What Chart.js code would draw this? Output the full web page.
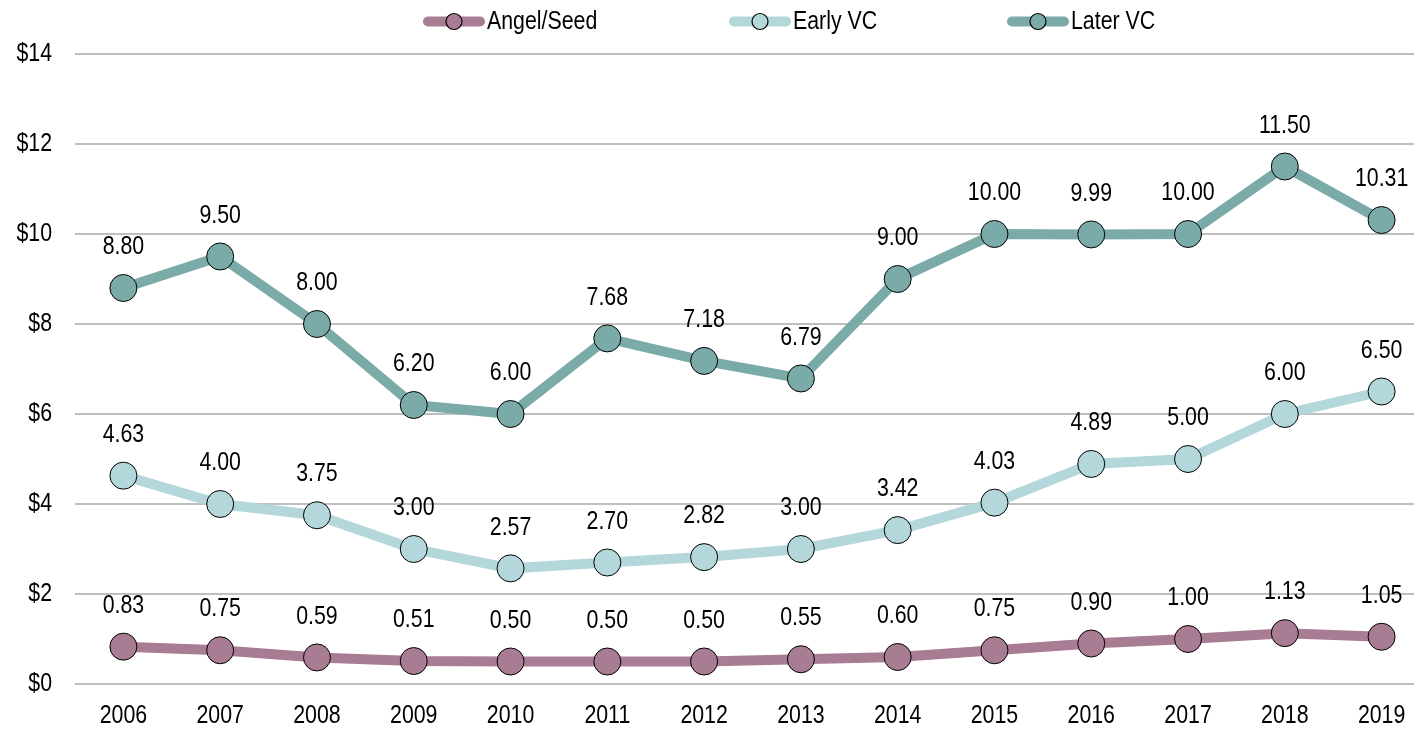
<!DOCTYPE html>
<html>
<head>
<meta charset="utf-8">
<script src="https://cdn.jsdelivr.net/npm/chart.js@4.4.0/dist/chart.umd.min.js"></script>
<style>
  html, body { margin: 0; padding: 0; background: #fff; overflow: hidden; }
  canvas { display: block; }
</style>
</head>
<body>
<canvas id="grafico" width="1430" height="729"></canvas>
<script>
// datos
const anios = ['2006','2007','2008','2009','2010','2011','2012','2013','2014','2015','2016','2017','2018','2019'];
const angelSeed = [0.83,0.75,0.59,0.51,0.50,0.50,0.50,0.55,0.60,0.75,0.90,1.00,1.13,1.05];
const earlyVC   = [4.63,4.00,3.75,3.00,2.57,2.70,2.82,3.00,3.42,4.03,4.89,5.00,6.00,6.50];
const laterVC   = [8.80,9.50,8.00,6.20,6.00,7.68,7.18,6.79,9.00,10.00,9.99,10.00,11.50,10.31];
const ticksY    = [0,2,4,6,8,10,12,14];

// no hay Arial Narrow: se estrecha la Liberation Sans a mano
const FUENTE = "26px 'Liberation Sans', Arial, sans-serif";
const ESTRECHO = 0.82;

const colores = {
    angel: 'rgb(168,124,146)',
    early: 'rgb(180,215,220)',
    later: 'rgb(123,171,168)'
};

function serie(label, data, color) {
    return {
        label: label,
        data: data,
        borderColor: color,
        backgroundColor: color,
        borderWidth: 10,
        pointRadius: 13.5,
        pointHoverRadius: 13.5,
        pointBackgroundColor: color,
        pointBorderColor: '#000',
        pointBorderWidth: 1,
        tension: 0
    };
}

function texto(ctx, t, x, y, align) {
    ctx.save();
    ctx.translate(x, y);
    ctx.scale(ESTRECHO, 1);
    ctx.font = FUENTE;
    ctx.fillStyle = '#000';
    ctx.textAlign = align;
    ctx.textBaseline = 'middle';
    ctx.fillText(t, 0, 0);
    ctx.restore();
}

// etiquetas de ejes y de puntos
const textosPlugin = {
    id: 'textos',
    afterDraw(chart) {
        const ctx = chart.ctx;
        const sx = chart.scales.x, sy = chart.scales.y;
        ticksY.forEach(v => texto(ctx, '$' + v, 52, sy.getPixelForValue(v), 'right'));
        anios.forEach((a, i) => texto(ctx, a, sx.getPixelForTick(i), 716, 'center'));
        chart.data.datasets.forEach((ds, i) => {
            chart.getDatasetMeta(i).data.forEach((pt, j) => {
                texto(ctx, ds.data[j].toFixed(2), pt.x, pt.y - 41, 'center');
            });
        });
    }
};

// leyenda con linea y circulo
const leyendaPlugin = {
    id: 'leyenda',
    afterDraw(chart) {
        const ctx = chart.ctx;
        const y = 21.5;
        const inicios = { 'Angel/Seed': 424, 'Early VC': 730, 'Later VC': 1008 };
        chart.data.datasets.forEach(ds => {
            const x = inicios[ds.label];
            ctx.save();
            ctx.strokeStyle = ds.borderColor;
            ctx.lineWidth = 10;
            ctx.lineCap = 'round';
            ctx.beginPath();
            ctx.moveTo(x + 4, y);
            ctx.lineTo(x + 56, y);
            ctx.stroke();
            ctx.beginPath();
            ctx.arc(x + 30, y, 8, 0, Math.PI * 2);
            ctx.fillStyle = ds.borderColor;
            ctx.fill();
            ctx.lineWidth = 1.2;
            ctx.strokeStyle = '#000';
            ctx.stroke();
            ctx.restore();
            texto(ctx, ds.label, x + 63, y + 0.5, 'left');
        });
    }
};

const ctx = document.getElementById('grafico').getContext('2d');
new Chart(ctx, {
    type: 'line',
    data: {
        labels: anios,
        datasets: [
            serie('Angel/Seed', angelSeed, colores.angel),
            serie('Early VC', earlyVC, colores.early),
            serie('Later VC', laterVC, colores.later)
        ]
    },
    options: {
        responsive: false,
        animation: false,
        // el area del grafico sigue un poco mas alla del borde derecho de la ventana
        layout: { autoPadding: false, padding: { top: 54, right: 0, left: 0, bottom: 0 } },
        plugins: { legend: { display: false }, tooltip: { enabled: false } },
        scales: {
            x: {
                offset: true,
                grid: { display: false },
                border: { display: false },
                ticks: { display: false },
                afterFit(s) { s.height = 45; }
            },
            y: {
                min: 0,
                max: 14,
                afterBuildTicks(s) { s.ticks = ticksY.map(v => ({ value: v })); },
                grid: { color: '#bfbfbf', lineWidth: 2, drawTicks: false },
                border: { display: false },
                ticks: { display: false },
                afterFit(s) { s.width = 75; }
            }
        }
    },
    plugins: [textosPlugin, leyendaPlugin]
});
</script>
</body>
</html>
